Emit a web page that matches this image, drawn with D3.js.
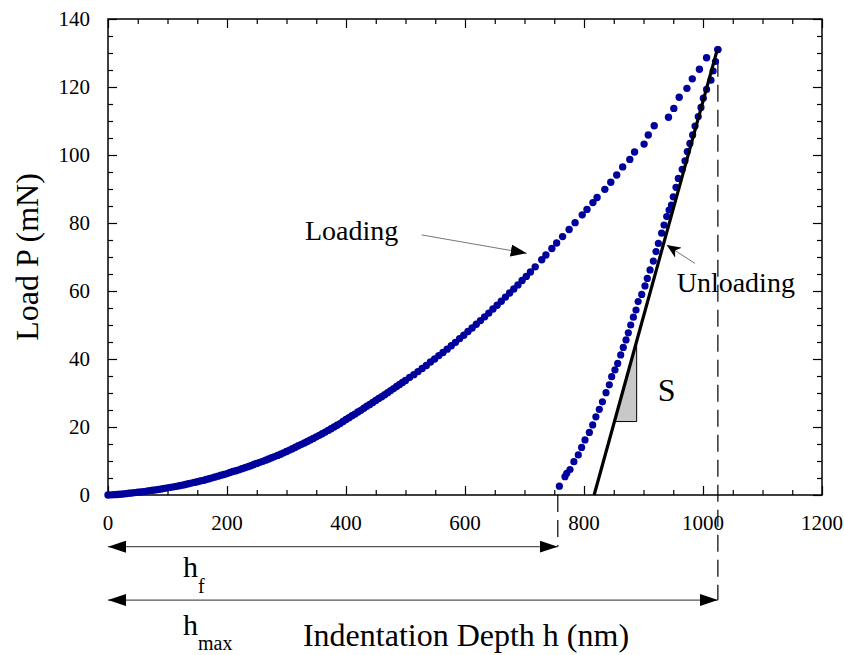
<!DOCTYPE html>
<html><head><meta charset="utf-8">
<script src="https://cdn.jsdelivr.net/npm/d3@7"></script>
<style>html,body{margin:0;padding:0;background:#fff}svg{display:block}</style>
</head><body>
<svg id="chart" width="844" height="655"></svg>
<script>
// ---- data ----
const loadingH = [0,5,10,15,20,25,30,35,40,45,50,55,60,65,70,75,80,85,90,95,100,105,110,115,120,125,130,135,140,145,150,155,160,165,170,175,180,185,190,195,200,205,210,215,220,225,230,235,240,245,250,255,260,265,270,275,280,285,290,295,300,305,310,315,320,325,330,335,340,345,350,355,360,365,370,375,380,385,390,395,400,405,410,415,420,425,430,435,440,445,450,455,460,465,470,475,480,485,490,495,500,507,514,521,528,535,542,549,556,563,570,577,584,591,598,605,612,619,626,633,640,647,654,661,668,675,682,689,696,703,710,718,729,736,746,754,764,775,785,797,805,815,822,835,845,855,865,877,885,901,908,918,942,951,960,973,982,994,1006,1025];
const loadingP = [0,0.05,0.1,0.15,0.2,0.3,0.4,0.5,0.6,0.7,0.8,0.9,1.0,1.15,1.3,1.4,1.5,1.65,1.8,1.95,2.1,2.25,2.4,2.55,2.7,2.9,3.1,3.3,3.5,3.7,3.9,4.1,4.3,4.55,4.8,5.05,5.3,5.55,5.8,6.05,6.3,6.6,6.9,7.15,7.4,7.7,8.0,8.3,8.6,8.95,9.3,9.6,9.9,10.25,10.6,10.95,11.3,11.65,12.0,12.4,12.8,13.2,13.6,14.05,14.5,14.9,15.3,15.75,16.2,16.65,17.1,17.55,18.0,18.5,19.0,19.5,20.0,20.5,21.0,21.6,22.2,22.7,23.3,23.8,24.4,24.9,25.5,26.1,26.6,27.2,27.8,28.4,28.9,29.5,30.1,30.7,31.3,31.9,32.5,33.1,33.7,34.6,35.4,36.3,37.2,38.1,39.1,40.0,41.0,41.9,42.9,43.9,44.9,46.0,47.0,48.1,49.1,50.2,51.3,52.4,53.5,54.7,55.8,57.0,58.2,59.4,60.6,61.8,63.1,64.3,65.6,67.1,69.2,70.6,72.5,74.1,76.0,78.1,80.1,82.4,84.0,86.0,87.5,89.9,92.0,94.1,96.5,98.7,100.9,103.2,105.9,108.6,111.1,113.7,117.0,119.6,122.4,125.2,128.6,131.0];
const unloadingH = [1025,1021,1017,1013.4,1006,1000.5,996.6,992,986.6,982.6,978,973.6,969.7,965,958.5,954.6,950,947,943,939,934.5,930.5,925,921,916.5,911,906.4,902.5,897,891,887.4,883,878.5,874.5,870.6,866,861.7,856.6,852,846.5,842.5,837,831,825.7,820,814.6,809,801.7,796,790.4,783,776.5,771,768,758.6];
const unloadingP = [131,127.5,124.7,122,119.3,116.7,114,111.3,108.5,105.9,103.4,101,98.3,95.8,93.1,90.5,87.7,85.3,83.8,81.9,79.4,77,74,71.6,68.8,66.2,63.7,61.5,59,56.9,54.4,52.3,50,47.7,45.6,43.4,41.2,38.7,36.8,34.8,32.4,30.1,27.4,25.2,23,20.6,18.4,16.2,14,11.8,9.8,7.5,6.4,5.4,2.6];
const tangentH = [817,1024];
const tangentP = [0,131];
const triangleH = [851,888.5,888.5];
const triangleP = [21.6,21.6,45];
const hf = 756, hmax = 1025;
const xTicks = [0,200,400,600,800,1000,1200];
const yTicks = [0,20,40,60,80,100,120,140];

// ---- layout ----
const svg = d3.select("#chart");
const pL = 108, pR = 822, pT = 19, pB = 495;
const x = d3.scaleLinear().domain([0,1200]).range([pL,pR]);
const y = d3.scaleLinear().domain([0,140]).range([pB,pT]);
const serif = "'Liberation Serif','Times New Roman',Times,serif";
const blue = "#00009c";

// defs: arrowheads
const defs = svg.append("defs");
defs.append("marker").attr("id","ah").attr("viewBox","0 0 18 12").attr("refX",18).attr("refY",6)
  .attr("markerWidth",18).attr("markerHeight",12).attr("markerUnits","userSpaceOnUse").attr("orient","auto-start-reverse")
  .append("path").attr("d","M0,0 L18,6 L0,12 Z").attr("fill","#000");
defs.append("marker").attr("id","ahs").attr("viewBox","0 0 16 12").attr("refX",16).attr("refY",6)
  .attr("markerWidth",16).attr("markerHeight",12).attr("markerUnits","userSpaceOnUse").attr("orient","auto")
  .append("path").attr("d","M0,0 L16,6 L0,12 Z").attr("fill","#000");
defs.append("marker").attr("id","ahu").attr("viewBox","0 0 14 12").attr("refX",14).attr("refY",6)
  .attr("markerWidth",14).attr("markerHeight",12).attr("markerUnits","userSpaceOnUse").attr("orient","auto")
  .append("path").attr("d","M0,0 L14,6 L0,12 L4,6 Z").attr("fill","#000");

// axes: ticks inward on all four sides
function stepArr(step, max){ const a=[]; for(let v=0; v<=max+1e-9; v+=step) a.push(v); return a; }
const xMinor = stepArr(50,1200).filter(v=>!xTicks.includes(v));
const yMinor = stepArr(5,140).filter(v=>!yTicks.includes(v));

const axG = svg.append("g").attr("font-family",serif);
function addAxis(axisFn, scale, tickVals, len, transform){
  const g = axG.append("g").attr("transform",transform)
    .call(axisFn(scale).tickValues(tickVals).tickSize(len).tickSizeOuter(0).tickFormat(""));
  g.select(".domain").remove();
  g.selectAll(".tick line").attr("stroke","#000").attr("stroke-width",1.2);
  return g;
}
addAxis(d3.axisTop, x, xTicks, 9, `translate(0,${pB})`);
addAxis(d3.axisTop, x, xMinor, 5, `translate(0,${pB})`);
addAxis(d3.axisBottom, x, xTicks, 9, `translate(0,${pT})`);
addAxis(d3.axisBottom, x, xMinor, 5, `translate(0,${pT})`);
addAxis(d3.axisRight, y, yTicks, 9, `translate(${pL},0)`);
addAxis(d3.axisRight, y, yMinor, 5, `translate(${pL},0)`);
addAxis(d3.axisLeft, y, yTicks, 9, `translate(${pR},0)`);
addAxis(d3.axisLeft, y, yMinor, 5, `translate(${pR},0)`);

// tick labels
axG.selectAll("text.xl").data(xTicks).enter().append("text").attr("class","xl")
  .attr("x",d=>x(d)).attr("y",pB+35).attr("text-anchor","middle")
  .attr("font-size",21).text(d=>d);
axG.selectAll("text.yl").data(yTicks).enter().append("text").attr("class","yl")
  .attr("x",pL-18).attr("y",d=>y(d)+7).attr("text-anchor","end")
  .attr("font-size",21).text(d=>d);

// frame
svg.append("rect").attr("x",pL).attr("y",pT).attr("width",pR-pL).attr("height",pB-pT)
  .attr("fill","none").attr("stroke","#000").attr("stroke-width",1.5);

// axis titles
svg.append("text").attr("x",466).attr("y",646).attr("text-anchor","middle")
  .attr("font-family",serif).attr("font-size",32).text("Indentation Depth h (nm)");
svg.append("text").attr("transform","translate(38,257) rotate(-90)").attr("text-anchor","middle")
  .attr("font-family",serif).attr("font-size",32).text("Load P (mN)");

// dashed verticals
const dash = "17,8";
svg.append("line").attr("x1",x(hmax)).attr("x2",x(hmax)).attr("y1",y(128)).attr("y2",y(-30.9))
  .attr("stroke","#000").attr("stroke-width",1.2).attr("stroke-dasharray",dash);
svg.append("line").attr("x1",x(hf)).attr("x2",x(hf)).attr("y1",y(0)).attr("y2",y(-15.2))
  .attr("stroke","#000").attr("stroke-width",1.2).attr("stroke-dasharray",dash);

// horizontal double arrows
svg.append("line").attr("x1",x(0)).attr("x2",x(hf)).attr("y1",y(-15.2)).attr("y2",y(-15.2))
  .attr("stroke","#555").attr("stroke-width",1.3)
  .attr("marker-start","url(#ah)").attr("marker-end","url(#ah)");
svg.append("line").attr("x1",x(0)).attr("x2",x(hmax)).attr("y1",y(-30.9)).attr("y2",y(-30.9))
  .attr("stroke","#555").attr("stroke-width",1.3)
  .attr("marker-start","url(#ah)").attr("marker-end","url(#ah)");

// h_f, h_max labels
const hf_t = svg.append("text").attr("font-family",serif).attr("x",x(126)).attr("y",577);
hf_t.append("tspan").attr("font-size",30).text("h");
hf_t.append("tspan").attr("font-size",20).attr("dy",16).text("f");
const hm_t = svg.append("text").attr("font-family",serif).attr("x",x(126)).attr("y",635);
hm_t.append("tspan").attr("font-size",30).text("h");
hm_t.append("tspan").attr("font-size",20).attr("dy",15).text("max");

// triangle S
svg.append("path").attr("d", d3.line().x(d=>x(d[0])).y(d=>y(d[1])).curve(d3.curveLinearClosed)(triangleH.map((h,i)=>[h,triangleP[i]])))
  .attr("fill","#c8c8c8").attr("stroke","#000").attr("stroke-width",1);

// data points
const pts = svg.append("g");
pts.selectAll("circle.ld").data(loadingH.map((h,i)=>[h,loadingP[i]])).enter().append("circle")
  .attr("class","ld").attr("cx",d=>x(d[0])).attr("cy",d=>y(d[1])).attr("r",3.7).attr("fill",blue);
pts.selectAll("circle.ul").data(unloadingH.map((h,i)=>[h,unloadingP[i]])).enter().append("circle")
  .attr("class","ul").attr("cx",d=>x(d[0])).attr("cy",d=>y(d[1])).attr("r",3.6).attr("fill",blue);

// tangent line
svg.append("path").attr("d", d3.line().x(d=>x(d[0])).y(d=>y(d[1]))(tangentH.map((h,i)=>[h,tangentP[i]])))
  .attr("stroke","#000").attr("stroke-width",3.2).attr("fill","none");

// S label
svg.append("text").attr("x",x(924)).attr("y",y(27.6)).attr("font-family",serif).attr("font-size",32).text("S");

// Loading annotation
svg.append("text").attr("x",x(331)).attr("y",y(75)).attr("font-family",serif).attr("font-size",28).text("Loading");
svg.append("line").attr("x1",x(527)).attr("y1",y(76.5)).attr("x2",x(703.7)).attr("y2",y(71.1))
  .attr("stroke","#777").attr("stroke-width",1).attr("marker-end","url(#ahs)");
// Unloading annotation
svg.append("text").attr("x",x(955.8)).attr("y",y(59.8)).attr("font-family",serif).attr("font-size",28).text("Unloading");
svg.append("line").attr("x1",x(986.6)).attr("y1",y(68.1)).attr("x2",x(939)).attr("y2",y(73.5))
  .attr("stroke","#777").attr("stroke-width",1).attr("marker-end","url(#ahu)");
</script>
</body></html>
